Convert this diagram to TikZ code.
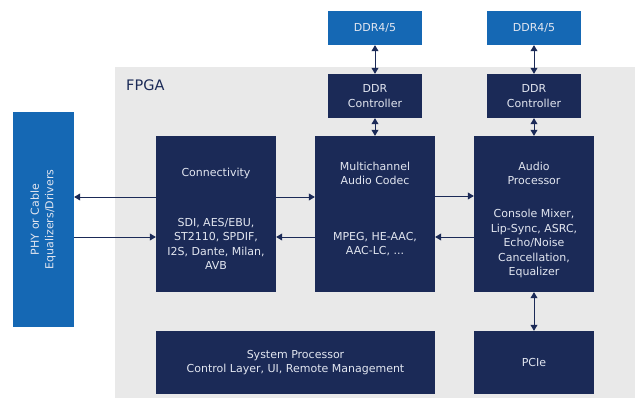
\documentclass[tikz,border=0pt]{standalone}
\usepackage{fontspec}
\setmainfont{DejaVu Sans}
\usetikzlibrary{arrows.meta}
\definecolor{navy}{RGB}{27,42,87}
\definecolor{chipblue}{RGB}{21,104,180}
\definecolor{fpgagrey}{RGB}{233,233,233}
\definecolor{boxtext}{RGB}{226,230,240}
\begin{document}
\begin{tikzpicture}[x=1pt,y=-1pt,
    blk/.style={fill=navy,inner sep=0pt},
    ext/.style={fill=chipblue,inner sep=0pt},
    txt/.style={text=boxtext,align=center,inner sep=0pt,
      font=\fontsize{11}{14.5}\selectfont},
    link/.style={draw=navy,line width=0.7pt,-{Triangle[length=6pt,width=7pt]}},
    both/.style={link,{Triangle[length=6pt,width=7pt]}-{Triangle[length=6pt,width=7pt]}}]
  \useasboundingbox (0,0) rectangle (635,399);
  % FPGA area
  \fill[fpgagrey] (115,67) rectangle (635,398);
  \node[anchor=west,inner sep=0pt,text=navy,font=\fontsize{14.5}{16}\selectfont] (fpga) at (126,85) {FPGA};

  % external parts
  \node[ext,minimum width=61pt,minimum height=215pt] (phy) at (43.5,219.5) {};
  \node[txt,rotate=90] (phytxt) at (43,219.5) {PHY or Cable\\Equalizers/Drivers};
  \node[ext,minimum width=94pt,minimum height=34pt] (ddra) at (375,28) {};
  \node[txt] (ddratxt) at (ddra) {DDR4/5};
  \node[ext,minimum width=94pt,minimum height=34pt] (ddrb) at (534,28) {};
  \node[txt] (ddrbtxt) at (ddrb) {DDR4/5};

  % blocks inside the FPGA
  \node[blk,minimum width=94pt,minimum height=44pt] (ctla) at (375,96) {};
  \node[txt] (ctlatxt) at (ctla) {DDR\\Controller};
  \node[blk,minimum width=94pt,minimum height=44pt] (ctlb) at (534,96) {};
  \node[txt] (ctlbtxt) at (ctlb) {DDR\\Controller};

  \node[blk,minimum width=120pt,minimum height=156pt] (conn) at (216,214) {};
  \node[txt] (conntitle) at (216,173) {Connectivity};
  \node[txt] (connbody) at (216,244) {SDI, AES/EBU,\\ST2110, SPDIF,\\I2S, Dante, Milan,\\AVB};

  \node[blk,minimum width=120pt,minimum height=156pt] (codec) at (375,214) {};
  \node[txt] (codectitle) at (375,173.5) {Multichannel\\Audio Codec};
  \node[txt] (codecbody) at (375,244) {MPEG, HE-AAC,\\AAC-LC, ...};

  \node[blk,minimum width=120pt,minimum height=156pt] (audio) at (534,214) {};
  \node[txt] (audiotitle) at (534,173.5) {Audio\\Processor};
  \node[txt] (audiobody) at (534,243.5) {Console Mixer,\\Lip-Sync, ASRC,\\Echo/Noise\\Cancellation,\\Equalizer};

  \node[blk,minimum width=279pt,minimum height=63pt] (sys) at (295.5,362.5) {};
  \node[txt] (systxt) at (sys) {System Processor\\Control Layer, UI, Remote Management};
  \node[blk,minimum width=120pt,minimum height=63pt] (pcie) at (534,362.5) {};
  \node[txt] (pcietxt) at (pcie) {PCIe};

  % data paths
  \draw[link] ([yshift=17pt]conn.west) -- ([yshift=17pt]conn.west -| phy.east);
  \draw[link] ([yshift=-23pt]conn.west -| phy.east) -- ([yshift=-23pt]conn.west);
  \draw[link] ([yshift=17pt]conn.east) -- ([yshift=17pt]codec.west);
  \draw[link] ([yshift=-23pt]codec.west) -- ([yshift=-23pt]conn.east);
  \draw[link] ([yshift=18pt]codec.east) -- ([yshift=18pt]audio.west);
  \draw[link] ([yshift=-23pt]audio.west) -- ([yshift=-23pt]codec.east);
  \draw[both] (ddra) -- (ctla);
  \draw[both] (ddrb) -- (ctlb);
  \draw[both] (ctla) -- (codec);
  \draw[both] (ctlb) -- (audio);
  \draw[both] (audio) -- (pcie);
\end{tikzpicture}
\end{document}
